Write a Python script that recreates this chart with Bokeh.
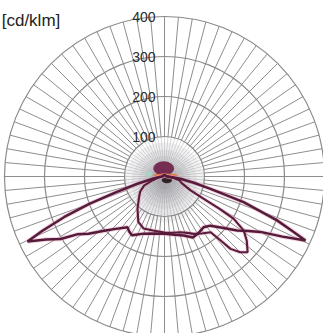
import numpy as np
from bokeh.plotting import figure
from bokeh.models import ColumnDataSource
from bokeh.core.properties import value
from bokeh.embed import file_html
from bokeh.resources import INLINE

# ---------------- data ----------------
unit_label = "[cd/klm]"
ring_values = [100, 200, 300, 400]
ring_labels = ["100", "200", "300", "400"]
spoke_angles = list(range(0, 360, 5))

# C0-C180 plane (gamma in degrees, 0 = nadir, negative = left)
c0_angles = [-180, -120, -95, -90, -85, -80, -75, -72, -70, -68, -66, -64.6, -62,
             -59, -56.5, -53, -48, -43, -36, -33, -29, -25, -20, -10, 0, 10, 18,
             25, 31, 37.6, 43, 49, 53.4, 57, 60, 63, 65.6, 67, 68.7, 72, 75, 78,
             82, 85, 90, 95, 120, 180]
c0_values = [4, 4, 5, 6, 12, 28, 70, 130, 200, 270, 335, 379, 335,
             303, 262, 238, 203, 179, 157, 163, 168, 160, 152, 145, 143, 148, 155,
             168, 165, 160, 168, 196, 226, 250, 277, 331, 387, 345, 302, 208, 119, 75,
             40, 20, 8, 5, 4, 4]

# C90-C270 plane
c90_angles = [-180, -120, -95, -90, -85, -80, -72, -66, -58, -49, -40, -30, -22,
              -12, 0, 8, 16, 22, 27, 33, 39.6, 41.2, 42.4, 45, 47.7, 52, 55.7,
              58.6, 59.5, 60.4, 62, 68, 76, 82, 90, 95, 120, 180]
c90_values = [4, 4, 5, 6, 10, 16, 32, 56, 72, 85, 105, 131, 140,
              138, 140, 142, 145, 152, 161, 170, 181, 212, 245, 268, 281, 261, 240,
              203, 160, 113, 74, 48, 38, 20, 8, 5, 4, 4]


def polar(angles, values):
    a = np.radians(np.asarray(angles, dtype=float))
    v = np.asarray(values, dtype=float)
    return v * np.sin(a), -v * np.cos(a)


# ---------------- figure ----------------
p = figure(width=323, height=333, x_range=(-410, 397.5), y_range=(-392.5, 440),
           output_backend="svg", toolbar_location=None, min_border=0,
           x_axis_location=None, y_axis_location=None)
p.grid.visible = False
p.outline_line_color = None
p.background_fill_color = "white"
p.border_fill_color = "white"

# spokes: light inside first ring, grey outside
sa = np.radians(spoke_angles)
inner_xs = [[0.0, ring_values[0] * np.sin(a)] for a in sa]
inner_ys = [[0.0, -ring_values[0] * np.cos(a)] for a in sa]
outer_xs = [[ring_values[0] * np.sin(a), ring_values[-1] * np.sin(a)] for a in sa]
outer_ys = [[-ring_values[0] * np.cos(a), -ring_values[-1] * np.cos(a)] for a in sa]
p.multi_line(inner_xs, inner_ys, line_color="#c9c9cc", line_width=0.7)
p.multi_line(outer_xs, outer_ys, line_color="#8e8e8e", line_width=1)

# rings
rings = ColumnDataSource(dict(x=[0] * len(ring_values), y=[0] * len(ring_values), r=ring_values))
p.circle(x="x", y="y", radius="r", source=rings, fill_color=None,
         line_color="#8a8a8a", line_width=1.2)

# grey haze of the scan around the centre
haze_r = [100, 82, 66, 52, 40, 29, 19]
p.circle(x=[0] * len(haze_r), y=[-15] * len(haze_r), radius=haze_r,
         fill_color="#7d7c88", fill_alpha=0.1, line_color=None)

# centre blob
p.ellipse(x=[-40], y=[6], width=[18], height=[14], fill_color="#9fd8c6",
          fill_alpha=0.7, line_color=None)
p.ellipse(x=[-2], y=[20], width=[52], height=[36], fill_color="#6e1e48",
          fill_alpha=0.9, line_color=None)
p.ellipse(x=[2], y=[3], width=[62], height=[9], fill_color="#e9762c",
          fill_alpha=0.9, line_color=None)
p.ellipse(x=[6], y=[-9], width=[26], height=[16], fill_color="#1c0b10",
          fill_alpha=0.85, line_color=None)

# curves
x0, y0 = polar(c0_angles, c0_values)
x9, y9 = polar(c90_angles, c90_values)
p.line(x0, y0, line_color="#e2a4bd", line_width=4.5, line_alpha=0.45)
p.line(x9, y9, line_color="#e2a4bd", line_width=4, line_alpha=0.45)
p.line(x9, y9, line_color="#5a1c3d", line_width=2.1)
p.line(x0, y0, line_color="#561a3a", line_width=2.5)

# ring labels
p.text(x=[-22.5] * len(ring_values), y=ring_values, text=ring_labels,
       text_align="right", text_baseline="middle",
       text_font=value("Liberation Sans"), text_font_size="14px",
       text_color="#2a2a2a")

# unit label in the top-left corner
p.text(x=[-407], y=[390], text=[unit_label], text_align="left",
       text_baseline="middle", text_font=value("Liberation Sans"),
       text_font_size="17px", text_color="#222222")

open("out.html", "w").write(file_html(p, INLINE))
